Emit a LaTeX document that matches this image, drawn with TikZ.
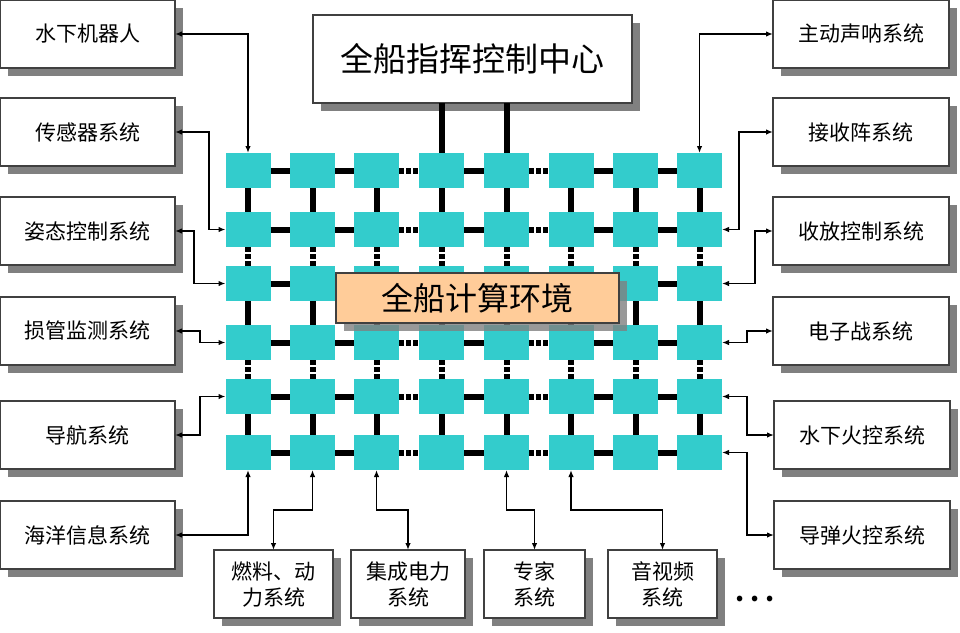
\documentclass[tikz,border=0pt]{standalone}
\usepackage{fontspec}
\setmainfont{Noto Sans CJK SC}
\usetikzlibrary{arrows.meta,shadows}
\definecolor{sqc}{HTML}{33CCCC}
\definecolor{boxline}{HTML}{404040}
\definecolor{shadowc}{HTML}{808080}
\definecolor{peach}{HTML}{FFCC99}
\begin{document}
\begin{tikzpicture}[x=1pt,y=-1pt,
  sq/.style={fill=sqc, draw=none, minimum width=45pt, minimum height=35pt, inner sep=0pt, outer sep=0pt},
  sysbox/.style={draw=boxline, line width=1.1pt, fill=white,
    drop shadow={shadow xshift=8pt, shadow yshift=-8pt, fill=shadowc, opacity=1},
    inner sep=0pt, outer sep=0pt, font=\fontsize{21}{26}\selectfont, align=center},
  sidebox/.style={sysbox, minimum width=176pt, minimum height=68pt},
  link/.style={line width=6pt, black},
  dlink/.style={line width=6pt, black, dash pattern=on 5pt off 2pt},
  conn/.style={line width=1.4pt, {Latex[length=7pt,width=5.5pt]}-{Latex[length=7pt,width=5.5pt]}},
]
\useasboundingbox (0,0) rectangle (960,632);

% grid of squares
\foreach \y [count=\r] in {170.5,229.5,283.5,342.5,396.5,452.5}
  \foreach \x [count=\c] in {248,312.5,376.5,441.5,506.5,571,635.5,699.5}
    \node[sq] (s-\r-\c) at (\x,\y) {};

% horizontal links
\foreach \r in {1,...,6} {
  \foreach \c in {1,2,4,6,7} {
    \pgfmathtruncatemacro\n{\c+1}
    \draw[link] (s-\r-\c.east) -- (s-\r-\n.west);
  }
  \foreach \c in {3,5} {
    \pgfmathtruncatemacro\n{\c+1}
    \draw[dlink] (s-\r-\c.east) -- (s-\r-\n.west);
  }
}
% vertical links
\foreach \c in {1,...,8} {
  \foreach \r in {1,3,5} {
    \pgfmathtruncatemacro\n{\r+1}
    \draw[link] (s-\r-\c.south) -- (s-\n-\c.north);
  }
  \foreach \r in {2,4} {
    \pgfmathtruncatemacro\n{\r+1}
    \draw[dlink] (s-\r-\c.south) -- (s-\n-\c.north);
  }
}

% command center
\node[sysbox, minimum width=319pt, minimum height=88pt, font=\fontsize{33}{33}\selectfont] (cmd) at (472.5,59) {全船指挥控制中心};
\draw[link] (cmd.south -| s-1-4.north) -- (s-1-4.north);
\draw[link] (cmd.south -| s-1-5.north) -- (s-1-5.north);

% left boxes
\node[sidebox, minimum width=175pt] (robot)    at (87.5,34)  {水下机器人};
\node[sidebox, minimum width=175pt] (sensor)   at (87.5,132) {传感器系统};
\node[sidebox, minimum width=175pt] (attitude) at (87.5,231) {姿态控制系统};
\node[sidebox, minimum width=175pt] (damage)   at (87.5,331) {损管监测系统};
\node[sidebox, minimum width=175pt] (nav)      at (87.5,435) {导航系统};
\node[sidebox, minimum width=175pt] (ocean)    at (87.5,535) {海洋信息系统};

% right boxes
\node[sidebox] (sonar)   at (861,34)  {主动声呐系统};
\node[sidebox] (array)   at (861,132) {接收阵系统};
\node[sidebox] (recov)   at (861,231) {收放控制系统};
\node[sidebox] (ew)      at (861,331) {电子战系统};
\node[sidebox] (uwfire)  at (862,435) {水下火控系统};
\node[sidebox] (missile) at (862,535) {导弹火控系统};

% bottom boxes
\node[sysbox, minimum width=119pt, minimum height=68pt] (fuel)   at (273.5,584) {燃料、动\\力系统};
\node[sysbox, minimum width=114pt, minimum height=68pt] (power)  at (408,584)   {集成电力\\系统};
\node[sysbox, minimum width=101pt, minimum height=68pt] (expert) at (534.5,584) {专家\\系统};
\node[sysbox, minimum width=109pt, minimum height=68pt] (av)     at (662.5,584) {音视频\\系统};
\node[font=\fontsize{26}{26}\selectfont\bfseries, inner sep=0pt] (more) at (755,599) {.\hspace{6pt}.\hspace{6pt}.};

% central label
\node[draw=boxline, line width=1.1pt, fill=peach,
  drop shadow={shadow xshift=8pt, shadow yshift=-8pt, fill=shadowc, opacity=0.8},
  minimum width=283pt, minimum height=50pt, inner sep=0pt,
  font=\fontsize{32}{32}\selectfont] (env) at (477.5,298) {全船计算环境};

% left connectors
\draw[conn] (robot.east) -| (s-1-1.north);
\draw[conn] (sensor.east) -- ++(34,0) |- (s-2-1.west);
\draw[conn] (attitude.east) -- ++(19,0) |- (s-3-1.west);
\draw[conn] (damage.east) -- ++(25,0) |- (s-4-1.west);
\draw[conn] (nav.east) -- ++(25,0) |- (s-5-1.west);
\draw[conn] (ocean.east) -| (s-6-1.south);

% right connectors
\draw[conn] (sonar.west) -| (s-1-8.north);
\draw[conn] (array.west) -- ++(-34,0) |- (s-2-8.east);
\draw[conn] (recov.west) -- ++(-18,0) |- (s-3-8.east);
\draw[conn] (ew.west) -- ++(-26,0) |- (s-4-8.east);
\draw[conn] (uwfire.west) -- ++(-27,0) |- (s-5-8.east);
\draw[conn] (missile.west) -- ++(-27,0) |- (s-6-8.east);

% bottom connectors
\draw[conn] (s-6-2.south) -- ++(0,40) -| (fuel.north);
\draw[conn] (s-6-3.south) -- ++(0,40) -| (power.north);
\draw[conn] (s-6-5.south) -- ++(0,40) -| (expert.north);
\draw[conn] (s-6-6.south) -- ++(0,40) -| (av.north);
\end{tikzpicture}
\end{document}
